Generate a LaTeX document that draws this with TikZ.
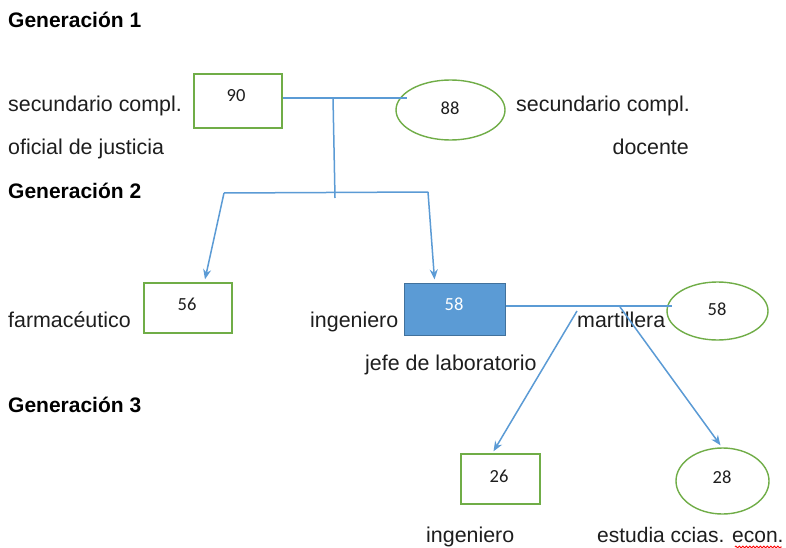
\documentclass[tikz,border=0pt]{standalone}
\usepackage{fontspec}
\setmainfont{Liberation Sans}
\newfontfamily\numfont{Carlito}
\usetikzlibrary{shapes.geometric,arrows.meta,decorations.pathmorphing}
\definecolor{gr}{HTML}{70AD47}
\definecolor{bl}{HTML}{5B9BD5}
\definecolor{bldark}{HTML}{41719C}
\definecolor{ink}{HTML}{1E1E1E}
\tikzset{
  txt/.style={inner sep=0pt, anchor=base west, text=ink, font=\fontsize{21.4}{24}\selectfont},
  txtr/.style={inner sep=0pt, anchor=base east, text=ink, font=\fontsize{21.4}{24}\selectfont},
  head/.style={inner sep=0pt, anchor=base west, text=black, font=\fontsize{21}{24}\selectfont\bfseries},
  num/.style={inner sep=0pt, anchor=base, text=ink, font=\numfont\fontsize{18.5}{20}\selectfont},
  gbox/.style={draw=gr, line width=1.4pt, rectangle, inner sep=0pt},
  gell/.style={draw=gr, line width=1.4pt, ellipse, inner sep=0pt},
  conn/.style={draw=bl, line width=1.5pt},
  arr/.style={draw=bl, line width=1.5pt, -{Stealth[length=10pt,width=8pt]}, fill=bl},
}
\begin{document}
\begin{tikzpicture}[x=1pt,y=-1pt]
\useasboundingbox[fill=white] (0,0) rectangle (786,548);

% headings
\node[head] (g1) at (8,28) {Generación 1};
\node[head] (g2) at (8,198) {Generación 2};
\node[head] (g3) at (8,412) {Generación 3};

% generation 1
\node[gbox, minimum width=88pt, minimum height=54pt] (n90) at (238,101) {};
\node[num] (t90) at (236,102) {90};
\node[gell, minimum width=109pt, minimum height=60pt] (n88) at (450.5,110) {};
\node[num] (t88) at (450,115) {88};
\node[txt] (l1a) at (8,112) {secundario compl.};
\node[txt] (l1b) at (8,155) {oficial de justicia};
\node[txt] (r1a) at (516,112) {secundario compl.};
\node[txtr] (r1b) at (689,155) {docente};

% generation 2
\node[gbox, minimum width=88pt, minimum height=50pt] (n56) at (188,308) {};
\node[num] (t56) at (187,310) {56};
\node[draw=bldark, fill=bl, line width=1pt, rectangle, inner sep=0pt, minimum width=101pt, minimum height=52pt] (n58) at (454.5,309) {};
\node[num, text=white] (t58) at (454,310) {58};
\node[gell, minimum width=101pt, minimum height=58pt] (e58) at (717.5,311) {};
\node[num] (te58) at (717,315) {58};
\node[txt] (farm) at (8,327) {farmacéutico};
\node[txt] (ing) at (310,327) {ingeniero};
\node[txt] (jefe) at (365,370) {jefe de laboratorio};
\node[txt] (mart) at (577,327) {martillera};

% generation 3
\node[gbox, minimum width=79pt, minimum height=50pt] (n26) at (500.5,479) {};
\node[num] (t26) at (499,482) {26};
\node[gell, minimum width=93pt, minimum height=66pt] (n28) at (722.5,481) {};
\node[num] (t28) at (722,483) {28};
\node[txt] (ing2) at (426,542) {ingeniero};
\node[txt, font=\fontsize{21}{24}\selectfont] (est) at (597,542) {estudia ccias. econ.};
\draw[red, line width=0.8pt, decorate, decoration={snake, amplitude=1pt, segment length=3.5pt}]
  ([xshift=-49pt, yshift=-5pt]est.base east) -- ([xshift=-2pt, yshift=-5pt]est.base east);

% connectors generation 1 -> 2
\coordinate (j1) at (333,98);
\coordinate (j2) at (335,198);
\coordinate (jl) at (224,193);
\coordinate (jr) at (428,192);
\draw[conn] (n90.east |- j1) -- ([xshift=12pt]n88.west |- j1);
\draw[conn] (j1) -- (j2);
\draw[conn] (jl) -- (jr);
\draw[arr] (jl) -- ([xshift=17pt, yshift=3pt]n56.north);
\draw[arr] (jr) -- ([xshift=-20pt, yshift=3pt]n58.north);

% connectors generation 2 -> 3
\coordinate (k0) at (672,306);
\coordinate (k1) at (577,311);
\coordinate (k2) at (620,307);
\draw[conn] (n58.east |- k0) -- (k0);
\draw[arr] (k1) -- ([xshift=-7pt, yshift=2pt]n26.north);
\draw[arr] (k2) -- ([xshift=-2pt, yshift=2pt]n28.north);
\end{tikzpicture}
\end{document}
